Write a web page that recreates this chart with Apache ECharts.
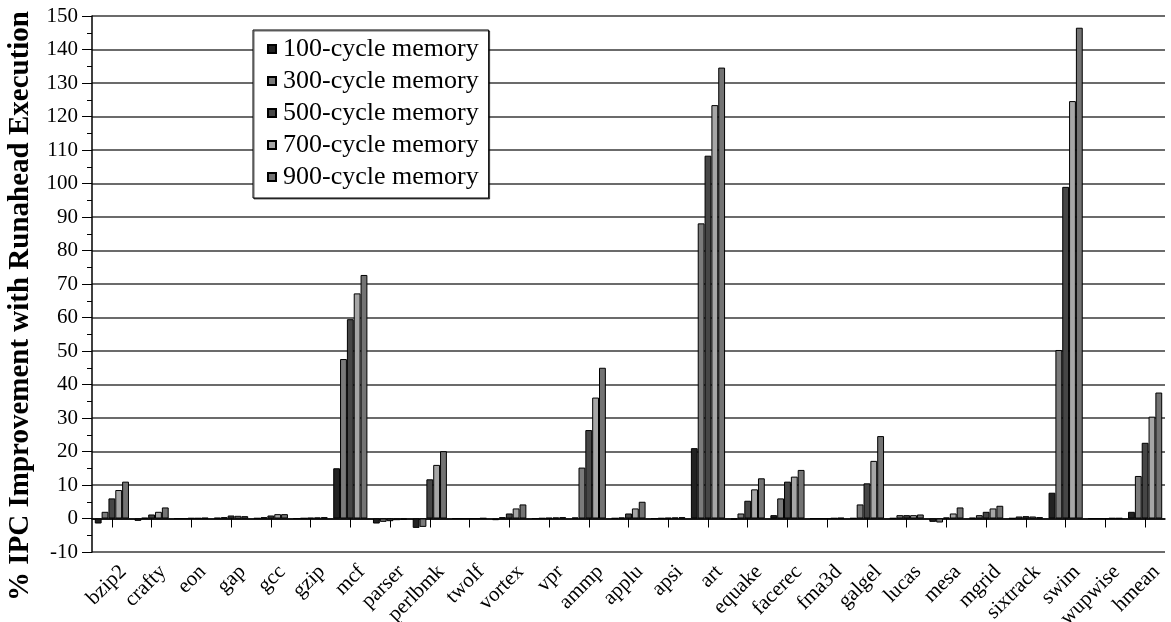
<!DOCTYPE html>
<html>
<head>
<meta charset="utf-8">
<script src="https://cdn.jsdelivr.net/npm/echarts@6/dist/echarts.min.js"></script>
<style>html,body{margin:0;padding:0;background:#fff;}#c{width:1171px;height:622px;}</style>
</head>
<body>
<div id="c"></div>
<script>
const categories = ['bzip2','crafty','eon','gap','gcc','gzip','mcf','parser','perlbmk','twolf','vortex','vpr','ammp','applu','apsi','art','equake','facerec','fma3d','galgel','lucas','mesa','mgrid','sixtrack','swim','wupwise','hmean'];
const seriesNames = ['100-cycle memory','300-cycle memory','500-cycle memory','700-cycle memory','900-cycle memory'];
const mem100 = [-1.5,-0.7,0.0,0.2,0.1,0.0,15.0,-1.5,-2.8,0.0,-0.5,0.0,0.3,0.1,0.0,21.0,-0.3,1.0,0.0,0.1,0.1,-1.0,0.2,0.1,7.7,0.0,2.0];
const mem300 = [2.0,0.2,0.0,0.4,0.4,0.1,47.6,-1.0,-2.5,0.0,0.4,0.1,15.2,0.3,0.1,88.1,1.5,6.0,0.0,4.2,1.0,-1.2,1.0,0.6,50.3,0.0,12.7];
const mem500 = [6.0,1.2,0.1,0.9,0.9,0.2,59.5,-0.8,11.7,0.0,1.5,0.2,26.4,1.5,0.2,108.3,5.3,11.0,0.0,10.5,1.0,0.3,2.0,0.7,99.0,0.0,22.6];
const mem700 = [8.5,2.0,0.1,0.8,1.3,0.3,67.2,-0.5,16.0,0.0,3.0,0.3,36.1,3.0,0.3,123.4,8.7,12.5,0.1,17.2,1.0,1.5,3.0,0.6,124.6,0.1,30.4];
const mem900 = [11.0,3.3,0.2,0.7,1.3,0.4,72.7,-0.3,20.1,0.1,4.2,0.4,45.0,5.0,0.4,134.6,12.0,14.5,0.2,24.6,1.2,3.3,3.8,0.4,146.5,0.1,37.6];
const yTicks = {min: -10, max: 150, interval: 10};

const colors = ['#222222','#7a7a7a','#464646','#a6a6a6','#737373'];
const allData = [mem100, mem300, mem500, mem700, mem900];
const serif = '"Liberation Serif", "Times New Roman", serif';

const chart = echarts.init(document.getElementById('c'), null, {renderer: 'canvas'});
chart.setOption({
  animation: false,
  backgroundColor: '#fff',
  grid: {left: 92, right: 6, top: 16, bottom: 70, containLabel: false, outerBoundsMode: 'none'},
  legend: {
    orient: 'vertical',
    left: 253, top: 30,
    width: 234,
    padding: [6, 10, 8, 14],
    itemGap: 6,
    itemWidth: 8, itemHeight: 8,
    icon: 'rect',
    backgroundColor: '#fff',
    borderColor: '#000', borderWidth: 1,
    shadowColor: 'rgba(0,0,0,0.6)', shadowOffsetX: 1, shadowOffsetY: 1, shadowBlur: 0,
    textStyle: {fontFamily: serif, fontSize: 26, color: '#000', padding: [0,0,0,2]},
    data: seriesNames
  },
  xAxis: {
    type: 'category',
    data: categories,
    axisLine: {onZero: true, lineStyle: {color: '#000', width: 1.5}},
    axisTick: {show: true, alignWithLabel: true, length: 9, lineStyle: {color: '#000', width: 1}},
    axisLabel: {interval: 0, rotate: 45, margin: 28, padding: [0, -16, 0, 0], fontFamily: serif, fontSize: 21, color: '#000'},
    splitLine: {show: false}
  },
  yAxis: {
    type: 'value',
    min: yTicks.min, max: yTicks.max, interval: yTicks.interval,
    name: '% IPC Improvement with Runahead Execution',
    nameLocation: 'middle',
    nameGap: 57,
    nameRotate: 90,
    nameTextStyle: {fontFamily: serif, fontSize: 29, fontWeight: 'bold', color: '#000', padding: [0, 44, 0, 0]},
    axisLine: {show: true, lineStyle: {color: '#000', width: 1.5}},
    axisTick: {show: true, length: 10, lineStyle: {color: '#000'}},
    minorTick: {show: true, splitNumber: 2, length: 5, lineStyle: {color: '#000'}},
    axisLabel: {fontFamily: serif, fontSize: 21, color: '#000', margin: 14},
    splitLine: {show: true, lineStyle: {color: '#3a3a3a', width: 1.5}}
  },
  series: seriesNames.map((n, i) => ({
    name: n,
    type: 'bar',
    data: allData[i],
    barGap: '0%',
    barCategoryGap: '14%',
    itemStyle: {color: colors[i], borderColor: '#000', borderWidth: 1}
  }))
});
</script>
</body>
</html>
